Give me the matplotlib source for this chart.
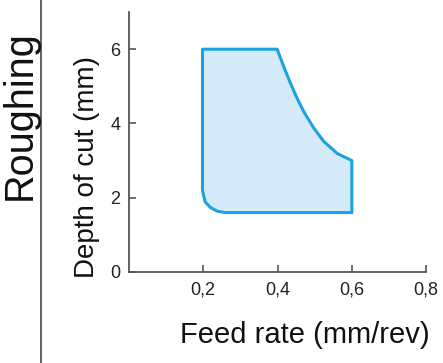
import matplotlib
matplotlib.use("Agg")
import matplotlib.pyplot as plt
from matplotlib.lines import Line2D

plt.rcParams['font.family'] = ['Liberation Sans', 'DejaVu Sans']

# outline of the roughing window (feed mm/rev, depth mm)
feed = [0.198, 0.399, 0.417, 0.435, 0.453, 0.471, 0.498, 0.525, 0.561, 0.600,
        0.600, 0.259, 0.237, 0.219, 0.205, 0.198, 0.198]
depth = [6.0, 6.0, 5.52, 5.08, 4.67, 4.31, 3.87, 3.51, 3.19, 3.0,
         1.60, 1.60, 1.64, 1.74, 1.89, 2.2, 6.0]

x_ticks = [0.2, 0.4, 0.6, 0.8]
x_labels = ["0,2", "0,4", "0,6", "0,8"]
y_ticks = [0, 2, 4, 6]

line_col = "#1aa3e0"
fill_col = "#d5eaf8"
axis_col = "#555555"

fig = plt.figure(figsize=(4.43, 3.63), dpi=100)
ax = fig.add_axes([0.291, 0.2507, 0.671, 0.716])

ax.fill(feed, depth, facecolor=fill_col, edgecolor=line_col, linewidth=2.2, joinstyle="round")

ax.set_xlim(0, 0.8)
ax.set_ylim(0, 7.0)
ax.set_xticks(x_ticks)
ax.set_xticklabels(x_labels)
ax.set_yticks(y_ticks)
ax.tick_params(direction="in", length=5, width=1.2, color=axis_col, labelsize=13,
               labelcolor="#222222")
ax.tick_params(axis="x", pad=7)
ax.tick_params(axis="y", pad=6)
for s in ["top", "right"]:
    ax.spines[s].set_visible(False)
for s in ["left", "bottom"]:
    ax.spines[s].set_color(axis_col)
    ax.spines[s].set_linewidth(1.3)

fig.text(0.196, 0.54, "Depth of cut (mm)", rotation=90, fontsize=20,
         ha="center", va="center", color="#111111")
fig.text(0.688, 0.078, "Feed rate (mm/rev)", fontsize=21,
         ha="center", va="center", color="#111111")
fig.text(0.045, 0.683, "Roughing", rotation=90, fontsize=28.5,
         ha="center", va="center", color="#111111")

fig.add_artist(Line2D([0.093, 0.093], [0, 1], transform=fig.transFigure,
                      color="#444444", linewidth=1.2))

fig.savefig("out.png", dpi=100)
